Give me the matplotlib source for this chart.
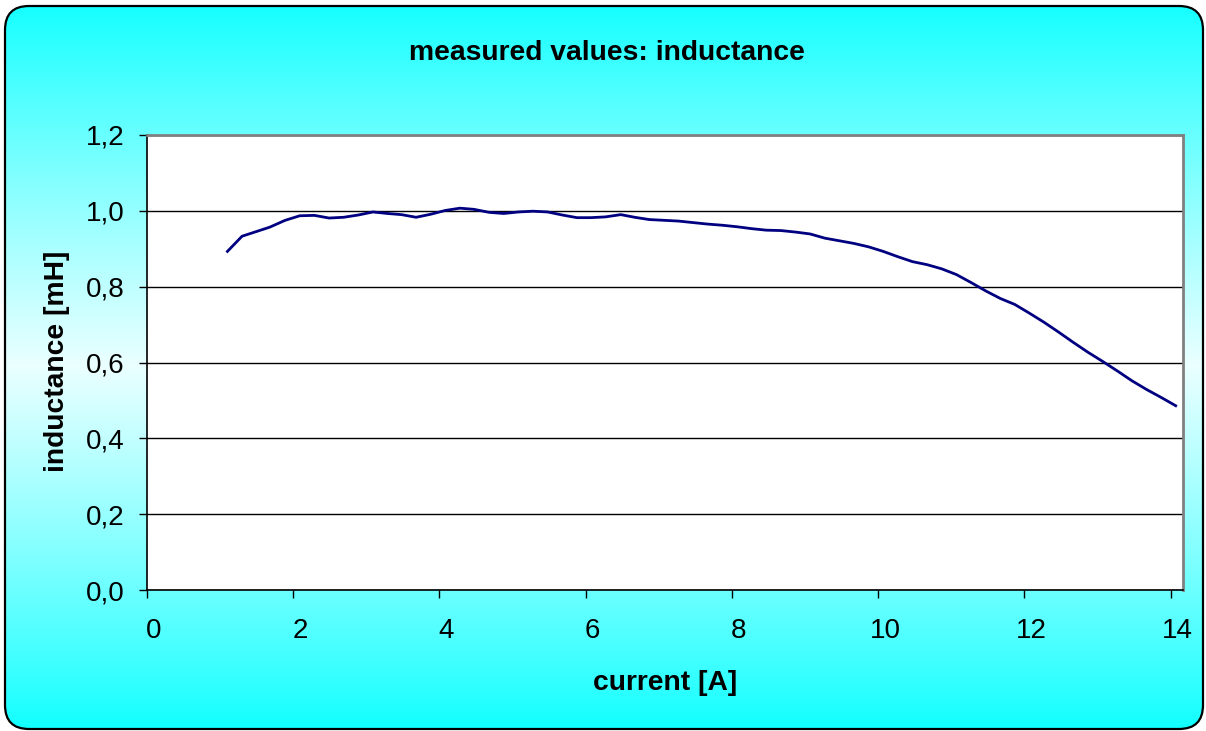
import numpy as np
import matplotlib.pyplot as plt
import matplotlib.transforms as mtransforms
from matplotlib.patches import FancyBboxPatch
from matplotlib.ticker import FuncFormatter

# data
current = [1.10, 1.30, 1.49, 1.68, 1.89, 2.09, 2.29, 2.49, 2.69, 2.89,
           3.09, 3.29, 3.48, 3.68, 3.88, 4.08, 4.28, 4.47, 4.68, 4.88,
           5.08, 5.28, 5.48, 5.68, 5.88, 6.07, 6.27, 6.48, 6.67, 6.87,
           7.07, 7.27, 7.47, 7.67, 7.87, 8.07, 8.27, 8.47, 8.67, 8.87,
           9.07, 9.27, 9.47, 9.67, 9.87, 10.07, 10.27, 10.47, 10.67, 10.87,
           11.07, 11.27, 11.47, 11.67, 11.87, 12.07, 12.27, 12.47, 12.67, 12.87,
           13.07, 13.27, 13.47, 13.67, 13.87, 14.07]
inductance = [0.893, 0.933, 0.945, 0.957, 0.975, 0.987, 0.988, 0.981, 0.983, 0.989,
              0.997, 0.993, 0.990, 0.983, 0.991, 1.001, 1.007, 1.004, 0.996, 0.993,
              0.997, 0.999, 0.997, 0.989, 0.982, 0.982, 0.984, 0.990, 0.983, 0.977,
              0.975, 0.973, 0.969, 0.965, 0.962, 0.958, 0.953, 0.949, 0.948, 0.944,
              0.939, 0.928, 0.921, 0.914, 0.905, 0.893, 0.879, 0.866, 0.858, 0.847,
              0.832, 0.811, 0.789, 0.769, 0.753, 0.730, 0.706, 0.680, 0.653, 0.627,
              0.603, 0.578, 0.552, 0.529, 0.508, 0.486]
x_ticks = [0, 2, 4, 6, 8, 10, 12, 14]
y_ticks = [0.0, 0.2, 0.4, 0.6, 0.8, 1.0, 1.2]

W, H = 1206, 731
plt.rcParams['font.family'] = ['Liberation Sans', 'DejaVu Sans']
fig = plt.figure(figsize=(W / 100, H / 100), dpi=100)

# background: rounded box with cyan -> pale -> cyan gradient
bg = fig.add_axes([0, 0, 1, 1])
bg.set_xlim(0, W)
bg.set_ylim(0, H)
bg.axis('off')
t = np.linspace(0, 1, 400)
light = 1 - np.abs(2 * t - 1)
r = 0.06 + 0.86 * light ** 0.9
grad = np.stack([r, np.ones_like(r), np.ones_like(r)], axis=1)[:, None, :]
box = FancyBboxPatch((5, 2), 1198, 723, boxstyle="round,pad=0,rounding_size=24",
                     fc='none', ec='black', lw=1.6, zorder=3)
bg.add_patch(box)
img = bg.imshow(grad, extent=[0, W, 0, H], aspect='auto', origin='upper', zorder=1)
img.set_clip_path(box)

ax = fig.add_axes([147 / W, 1 - 590 / H, (1183 - 147) / W, (590 - 135) / H])
ax.set_facecolor('white')
ax.plot(current, inductance, color='#000080', lw=2, zorder=3)

ax.set_xlim(0, 14.17)
ax.set_ylim(0, 1.2)
ax.set_xticks(x_ticks)
ax.set_yticks(y_ticks)
ax.yaxis.set_major_formatter(FuncFormatter(lambda v, p: f"{v:.1f}".replace('.', ',')))
ax.yaxis.grid(True, color='black', lw=1)
ax.set_axisbelow(True)

for s in ['left', 'bottom']:
    ax.spines[s].set_color('black')
    ax.spines[s].set_linewidth(1.2)
for s in ['top', 'right']:
    ax.spines[s].set_color('#808080')
    ax.spines[s].set_linewidth(2)

ax.tick_params(axis='y', direction='out', length=6, width=1, pad=10, labelsize=20)
ax.tick_params(axis='x', direction='out', length=6, width=1, pad=14, labelsize=20)
shift = mtransforms.ScaledTranslation(7 / 100, 0, fig.dpi_scale_trans)
for lab in ax.get_xticklabels():
    lab.set_transform(lab.get_transform() + shift)

fig.text(607 / W, 1 - 53 / H, 'measured values: inductance', ha='center', va='center',
         fontsize=20.3, fontweight='bold')
fig.text(665 / W, 1 - 683 / H, 'current [A]', ha='center', va='center',
         fontsize=20.3, fontweight='bold')
fig.text(57 / W, 1 - 361 / H, 'inductance [mH]', ha='center', va='center',
         rotation=90, fontsize=20.3, fontweight='bold')

fig.savefig('out.png', dpi=100)
